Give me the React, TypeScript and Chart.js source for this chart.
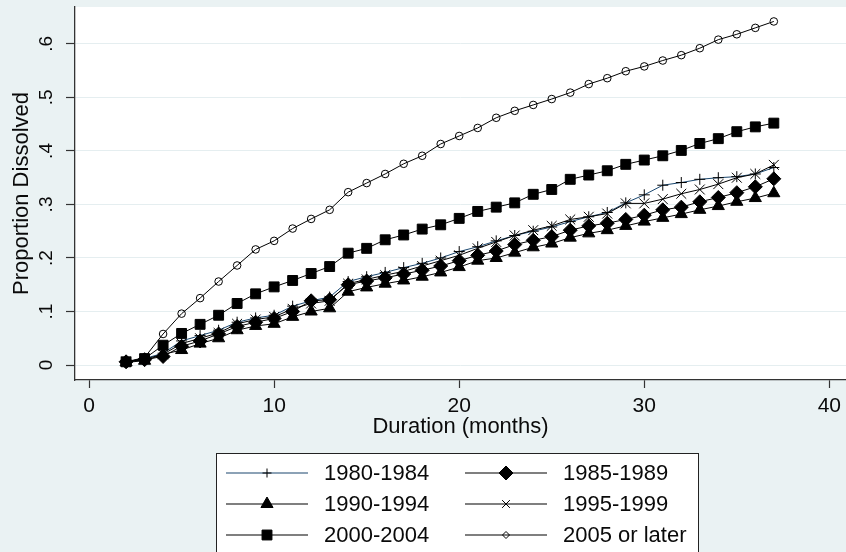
import React, { useEffect, useRef } from 'react';
import { Chart, registerables } from 'chart.js';
import { drawPoint } from 'chart.js/helpers';

Chart.register(...registerables);

const months = [2, 3, 4, 5, 6, 7, 8, 9, 10, 11, 12, 13, 14, 15, 16, 17, 18, 19, 20, 21, 22, 23, 24, 25, 26, 27, 28, 29, 30, 31, 32, 33, 34, 35, 36, 37];

const s1980 = [0.006, 0.012, 0.022, 0.045, 0.055, 0.065, 0.080, 0.088, 0.093, 0.110, 0.120, 0.127, 0.156, 0.165, 0.173, 0.182, 0.190, 0.200, 0.212, 0.221, 0.232, 0.242, 0.250, 0.258, 0.268, 0.277, 0.285, 0.303, 0.318, 0.336, 0.341, 0.347, 0.350, 0.352, 0.357, 0.369];
const s1985 = [0.006, 0.010, 0.016, 0.035, 0.045, 0.058, 0.072, 0.080, 0.087, 0.100, 0.120, 0.122, 0.150, 0.157, 0.163, 0.170, 0.177, 0.185, 0.195, 0.205, 0.213, 0.225, 0.233, 0.240, 0.252, 0.260, 0.265, 0.272, 0.280, 0.290, 0.295, 0.305, 0.313, 0.322, 0.333, 0.348];
const s1990 = [0.005, 0.008, 0.020, 0.028, 0.040, 0.050, 0.065, 0.073, 0.077, 0.090, 0.100, 0.106, 0.137, 0.145, 0.152, 0.158, 0.165, 0.173, 0.183, 0.195, 0.200, 0.210, 0.220, 0.227, 0.238, 0.246, 0.252, 0.260, 0.268, 0.275, 0.282, 0.290, 0.297, 0.305, 0.312, 0.321];
const s1995 = [0.006, 0.011, 0.020, 0.040, 0.050, 0.060, 0.077, 0.085, 0.090, 0.105, 0.115, 0.120, 0.152, 0.160, 0.168, 0.175, 0.185, 0.195, 0.205, 0.218, 0.230, 0.242, 0.252, 0.260, 0.272, 0.277, 0.283, 0.302, 0.302, 0.310, 0.320, 0.328, 0.338, 0.350, 0.357, 0.374];
const s2000 = [0.006, 0.012, 0.037, 0.059, 0.076, 0.093, 0.115, 0.133, 0.146, 0.158, 0.171, 0.184, 0.209, 0.218, 0.234, 0.243, 0.254, 0.262, 0.274, 0.287, 0.295, 0.303, 0.319, 0.328, 0.347, 0.355, 0.363, 0.375, 0.383, 0.391, 0.401, 0.414, 0.423, 0.436, 0.445, 0.452];
const s2005 = [0.006, 0.014, 0.058, 0.096, 0.125, 0.156, 0.186, 0.216, 0.232, 0.255, 0.273, 0.290, 0.323, 0.340, 0.357, 0.376, 0.391, 0.413, 0.428, 0.443, 0.462, 0.475, 0.486, 0.497, 0.509, 0.525, 0.536, 0.549, 0.558, 0.569, 0.579, 0.592, 0.608, 0.618, 0.630, 0.642];

const seriesLabels = ['1980-1984', '1985-1989', '1990-1994', '1995-1999', '2000-2004', '2005 or later'];
const xTickValues = [0, 10, 20, 30, 40];
const yTickValues = [0, 0.1, 0.2, 0.3, 0.4, 0.5, 0.6];
const xTitle = 'Duration (months)';
const yTitle = 'Proportion Dissolved';

const FONT = '"Liberation Sans", Arial, sans-serif';
const BG = '#EAF2F3';

function fmtY(v: number) {
  if (Math.abs(v) < 1e-9) return '0';
  return '.' + Math.round(v * 10);
}

const bgPlugin = {
  id: 'stataBg',
  beforeDraw(chart: any) {
    const { ctx, chartArea, width, height } = chart;
    ctx.save();
    ctx.fillStyle = BG;
    ctx.fillRect(0, 0, width, height);
    ctx.fillStyle = '#ffffff';
    ctx.fillRect(chartArea.left, chartArea.top, chartArea.right - chartArea.left, chartArea.bottom - chartArea.top);
    ctx.restore();
  },
  afterDraw(chart: any) {
    const { ctx } = chart;
    const y = chart.scales.y;
    ctx.save();
    // rotated y tick labels
    ctx.fillStyle = '#0a0a0a';
    ctx.font = `19px ${FONT}`;
    ctx.textAlign = 'center';
    ctx.textBaseline = 'middle';
    y.ticks.forEach((t: any) => {
      const py = y.getPixelForValue(t.value);
      ctx.save();
      ctx.translate(47, py);
      ctx.rotate(-Math.PI / 2);
      ctx.fillText(fmtY(t.value), 0, 0);
      ctx.restore();
    });

    // legend
    const boxL = 216, boxT = 453, boxR = 698, boxB = 560;
    ctx.fillStyle = '#ffffff';
    ctx.fillRect(boxL, boxT, boxR - boxL, boxB - boxT);
    ctx.strokeStyle = '#222';
    ctx.lineWidth = 1;
    ctx.strokeRect(boxL + 0.5, boxT + 0.5, boxR - boxL, boxB - boxT);
    const cols = [{ l0: 226, l1: 308, tx: 324 }, { l0: 465, l1: 547, tx: 563 }];
    const rows = [473, 504, 535];
    const legendRadius = [4.5, 7, 7, 5.5, 7, 3.5];
    const legendStyle = ['cross', 'rectRot', 'triangle', 'crossRot', 'rect', 'rectRot'];
    chart.data.datasets.forEach((ds: any, i: number) => {
      const c = cols[i % 2];
      const ry = rows[Math.floor(i / 2)];
      ctx.strokeStyle = ds.borderColor;
      ctx.lineWidth = 1.2;
      ctx.beginPath();
      ctx.moveTo(c.l0, ry);
      ctx.lineTo(c.l1, ry);
      ctx.stroke();
      ctx.strokeStyle = ds.pointBorderColor;
      ctx.fillStyle = ds.pointBackgroundColor;
      ctx.lineWidth = ds.pointBorderWidth;
      drawPoint(ctx, { pointStyle: legendStyle[i], rotation: 0, borderWidth: ds.pointBorderWidth, radius: legendRadius[i] } as any, (c.l0 + c.l1) / 2, ry);
      ctx.fillStyle = '#0a0a0a';
      ctx.font = `22px ${FONT}`;
      ctx.textAlign = 'left';
      ctx.textBaseline = 'middle';
      ctx.fillText(ds.label, c.tx, ry + 1);
    });
    ctx.restore();
  },
};

export default function App() {
  const ref = useRef<HTMLCanvasElement | null>(null);
  useEffect(() => {
    if (!ref.current) return;
    const mk = (vals: number[]) => months.map((m, i) => ({ x: m, y: vals[i] }));
    const all = [s1980, s1985, s1990, s1995, s2000, s2005];
    const styles = ['cross', 'rectRot', 'triangle', 'crossRot', 'rect', 'circle'];
    const radii = [5.5, 7, 7, 7, 7, 3.8];
    const lineColors = ['#1a476f', '#000', '#000', '#000', '#000', '#000'];
    const fills = ['#000', '#000', '#000', '#000', '#000', 'rgba(0,0,0,0)'];
    const datasets = all.map((vals, i) => ({
      label: seriesLabels[i],
      data: mk(vals),
      borderColor: lineColors[i],
      borderWidth: 1,
      pointStyle: styles[i],
      pointRadius: radii[i],
      pointBorderColor: '#000',
      pointBackgroundColor: fills[i],
      pointBorderWidth: 1,
      tension: 0,
      fill: false,
      order: 6 - i,
    }));
    const chart = new Chart(ref.current, {
      type: 'line',
      data: { datasets },
      plugins: [bgPlugin],
      options: {
        animation: false,
        responsive: false,
        maintainAspectRatio: false,
        layout: { autoPadding: false, padding: { left: 0, right: 0, top: 7, bottom: 0 } },
        plugins: { legend: { display: false }, tooltip: { enabled: false }, title: { display: false } },
        scales: {
          x: {
            type: 'linear',
            min: -0.76,
            max: 40.9,
            afterBuildTicks: (s: any) => { s.ticks = xTickValues.map((v) => ({ value: v })); },
            afterFit: (s: any) => { s.height = 172; s.paddingLeft = 0; s.paddingRight = 0; },
            grid: { drawOnChartArea: false, drawTicks: true, tickLength: 8, tickColor: '#333', tickWidth: 1.2 },
            border: { display: true, color: '#333', width: 1.3 },
            ticks: { color: '#0a0a0a', font: { family: FONT, size: 21 }, padding: 6, maxRotation: 0, autoSkip: false, callback: (v: any) => String(v) },
            title: { display: true, text: xTitle, color: '#0a0a0a', font: { family: FONT, size: 22 }, padding: { top: 0, bottom: 111.8 } },
          },
          y: {
            type: 'linear',
            min: -0.028,
            max: 0.669,
            afterBuildTicks: (s: any) => { s.ticks = yTickValues.map((v) => ({ value: v })); },
            afterFit: (s: any) => { s.width = 75; s.paddingTop = 0; s.paddingBottom = 0; },
            grid: { color: '#E5EEF0', lineWidth: 1, drawTicks: true, tickLength: 9, tickColor: '#333', tickWidth: 1.2 },
            border: { display: true, color: '#333', width: 1.3 },
            ticks: { display: false },
            title: { display: true, text: yTitle, color: '#0a0a0a', font: { family: FONT, size: 22 }, padding: { top: 8.8, bottom: 0 } },
          },
        },
      } as any,
    });
    return () => chart.destroy();
  }, []);
  return (
    <div style={{ position: 'absolute', left: 0, top: 0, width: 846, height: 552, background: BG }}>
      <canvas ref={ref} width={846} height={552} style={{ display: 'block' }} />
    </div>
  );
}
